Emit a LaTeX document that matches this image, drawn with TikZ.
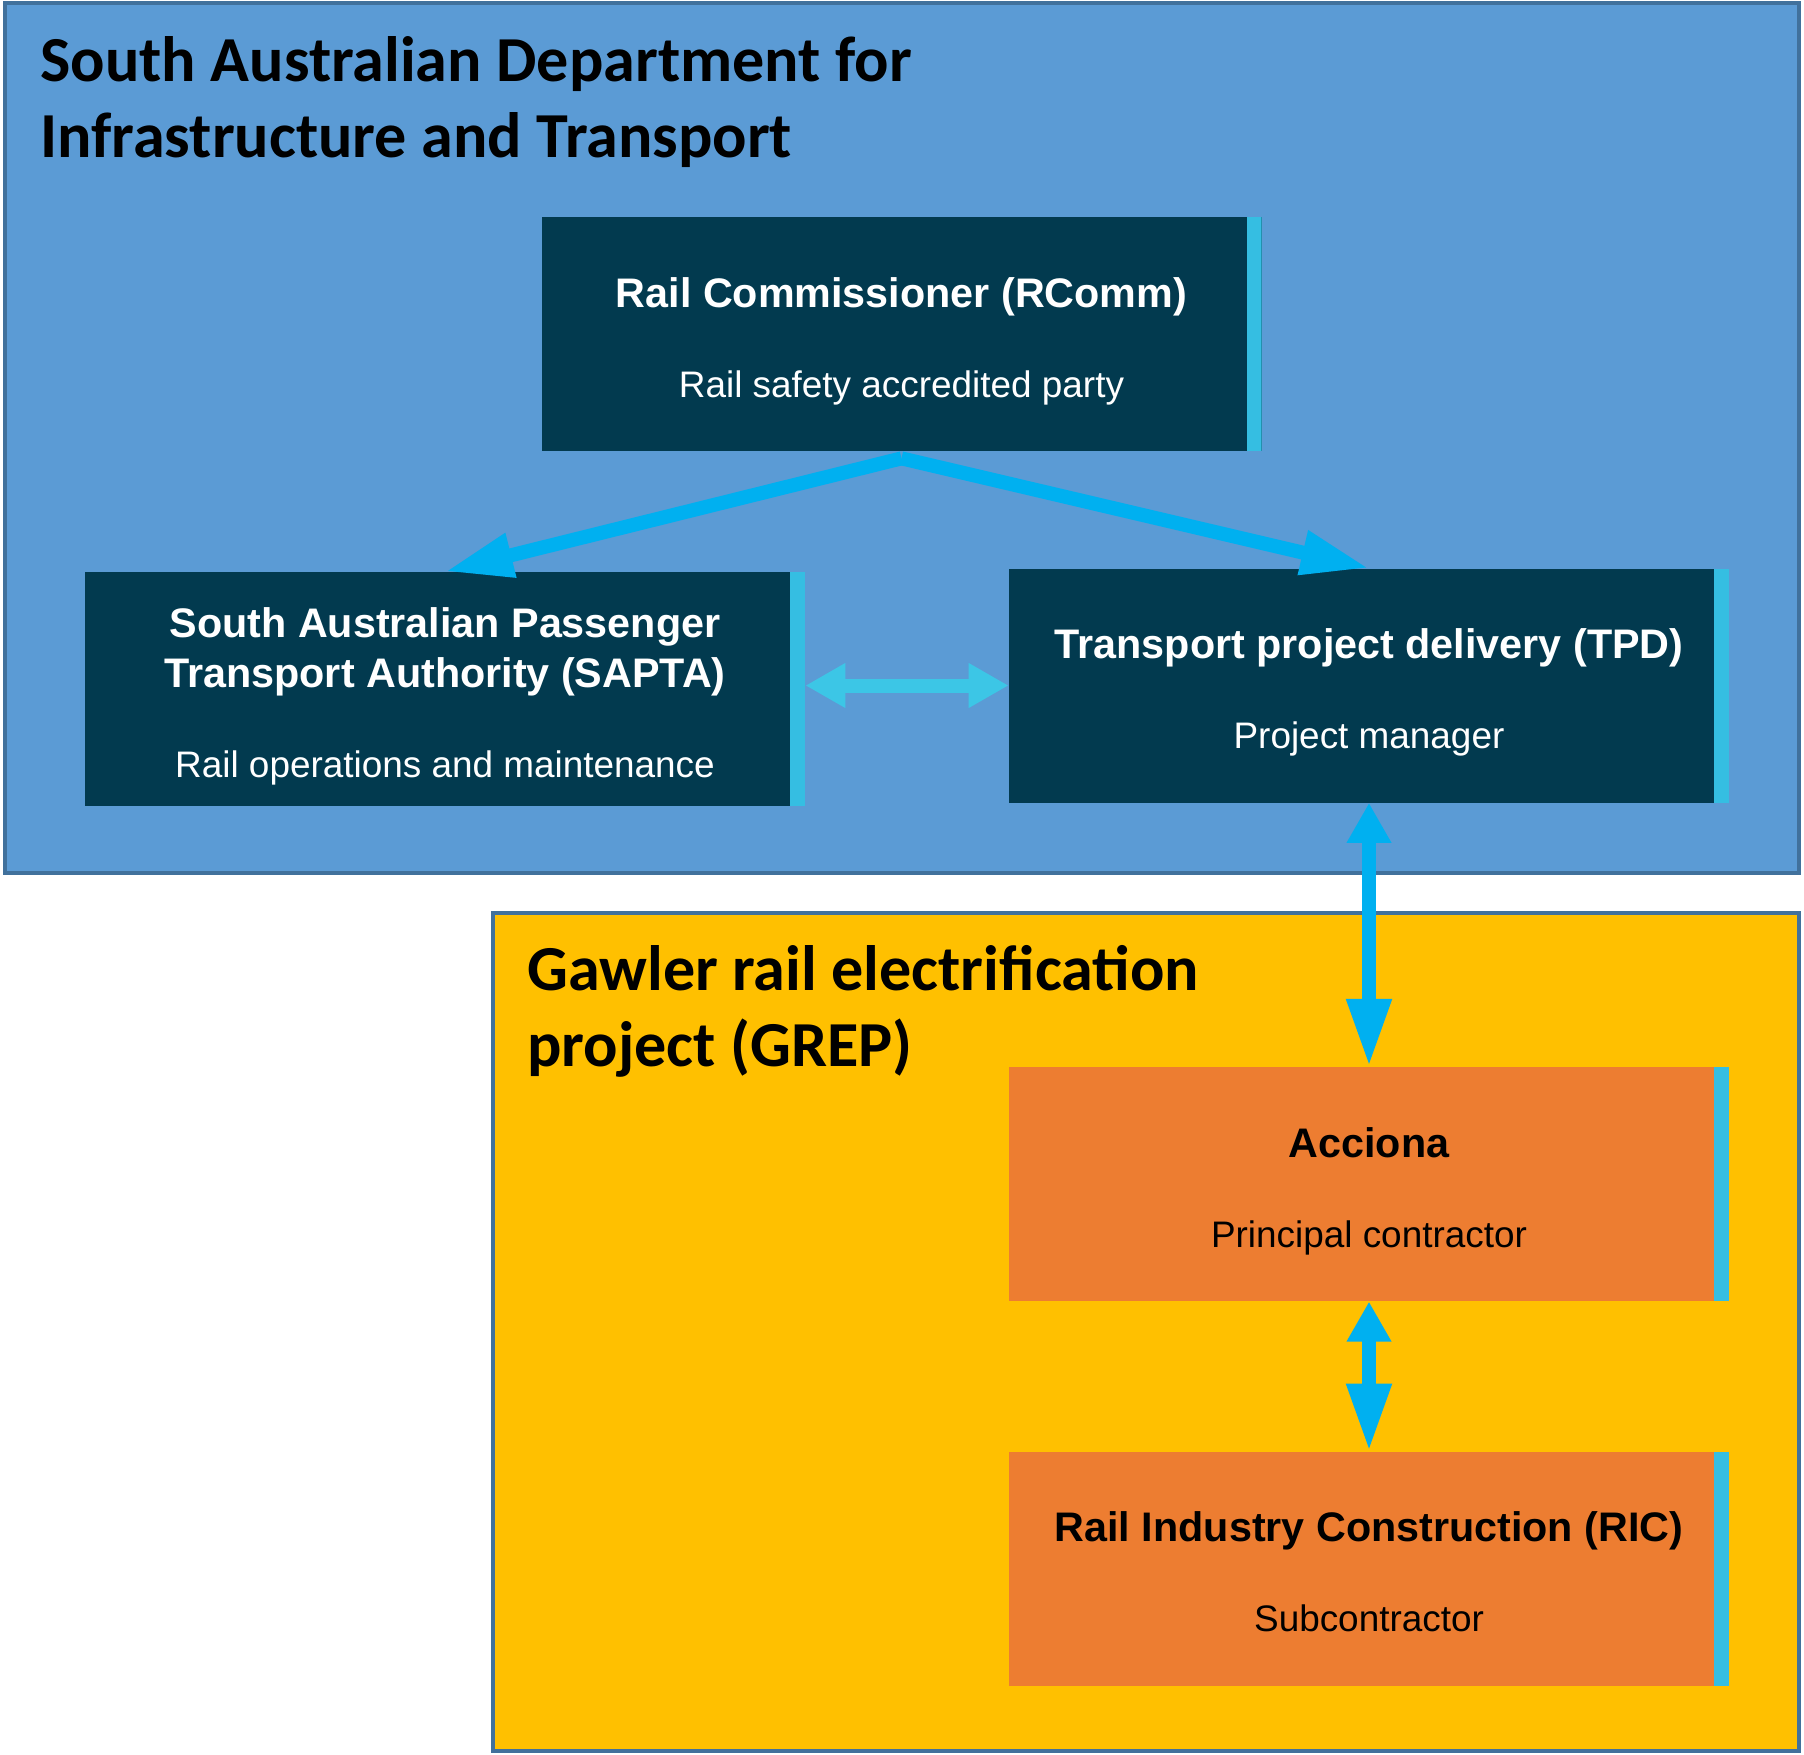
\documentclass[tikz,border=0pt]{standalone}
\usepackage{fontspec}
\setmainfont{Liberation Sans}
\newfontfamily\calibrifont{Carlito}
\usepackage{tikz}
\definecolor{ditblue}{HTML}{5B9BD5}
\definecolor{frameblue}{HTML}{41719C}
\definecolor{railnavy}{HTML}{023A4F}
\definecolor{railstripe}{HTML}{35BEE2}
\definecolor{linkcyan}{HTML}{3CC6E6}
\definecolor{arrowcyan}{HTML}{00B0F0}
\definecolor{grepyellow}{HTML}{FFC000}
\definecolor{greporange}{HTML}{ED7D31}
\usetikzlibrary{arrows.meta, positioning}
\newcommand{\orghead}{\calibrifont\bfseries\fontsize{36.5}{43}\selectfont}
\newcommand{\roletitle}{\bfseries\fontsize{23.5}{28.45}\selectfont}
\newcommand{\rolesub}{\mdseries\fontsize{21}{28.45}\selectfont}
% fixed line boxes, so that every text block sits alike
\newcommand{\roletop}{\rule{0pt}{0.9cm}}
\newcommand{\rolefoot}{\rule[-0.18cm]{0pt}{0pt}}
\tikzset{
    orgframe/.style={draw=frameblue, line width=0.08cm},
    orglabel/.style={anchor=base west, align=left, inner sep=0pt, font=\orghead},
    rolebox/.style={rectangle, align=center, minimum width=14.4cm, minimum height=4.68cm,
        inner sep=0pt, fill=railnavy, text=white, font=\rolesub,
        path picture={\fill[railstripe] ([xshift=-0.3cm]path picture bounding box.north east)
            rectangle (path picture bounding box.south east);}},
    contractbox/.style={rolebox, fill=greporange, text=black},
    rolearrow/.style={-{Triangle[length=1.36cm, width=0.84cm]}, line width=0.28cm, draw=arrowcyan},
    linkarrow/.style={{Triangle[length=0.8cm, width=0.84cm]}-{Triangle[length=0.8cm, width=0.84cm]},
        line width=0.28cm, draw=linkcyan},
    dualarrow/.style={{Triangle[length=0.8cm, width=0.84cm]}-{Triangle[length=1.36cm, width=0.84cm]},
        line width=0.28cm, draw=arrowcyan}
}

\begin{document}
\begin{tikzpicture}
  \useasboundingbox (0,0) rectangle (36.08,-35.1);
  % department and project frames
  \draw[orgframe, fill=ditblue] (0.1,-0.06) rectangle (35.98,-17.46);
  \draw[orgframe, fill=grepyellow] (9.86,-18.26) rectangle (35.98,-35.02);
  \node[orglabel] (dit) at (0.8,-3.14)
        {South Australian Department for\\Infrastructure and Transport};
  \node[orglabel] (grep) at (10.54,-21.32)
        {Gawler rail electrification\\project (GREP)};
  % roles
  \node[rolebox] (rcomm) at (18.03,-6.68)
        {\roletop\roletitle Rail Commissioner (RComm)\\[0.8cm]Rail safety accredited party\rolefoot};
  \node[rolebox] (sapta) at (8.9,-13.78)
        {\roletop\roletitle South Australian Passenger\\\roletitle Transport Authority (SAPTA)\\[0.8cm]Rail operations and maintenance\rolefoot};
  \node[rolebox] (tpd) at (27.38,-13.71)
        {\roletop\roletitle Transport project delivery (TPD)\\[0.8cm]Project manager\rolefoot};
  \node[contractbox, below=5.28cm of tpd] (acciona)
        {\roletop\roletitle Acciona\\[0.8cm]Principal contractor\rolefoot};
  \node[contractbox, below=3cm of acciona] (ric)
        {\roletop\roletitle Rail Industry Construction (RIC)\\[0.8cm]Subcontractor\rolefoot};
  % links
  \draw[rolearrow] ([yshift=-0.14cm]rcomm.south) -- (sapta.north);
  \draw[rolearrow] ([yshift=-0.14cm]rcomm.south) -- (tpd.north);
  \draw[linkarrow] (sapta.east |- tpd) -- (tpd.west);
  \draw[dualarrow] (tpd.south) -- (acciona.north);
  \draw[dualarrow] (acciona.south) -- (ric.north);
\end{tikzpicture}
\end{document}
